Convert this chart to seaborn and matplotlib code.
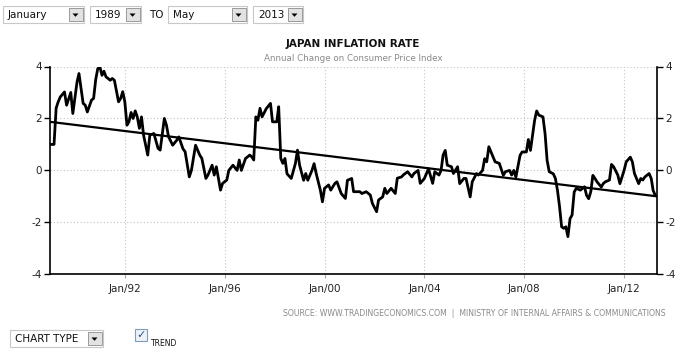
import matplotlib
matplotlib.use("Agg")
import matplotlib.pyplot as plt
from matplotlib.patches import Rectangle, Polygon
import pandas as pd
import seaborn as sns

# Japan CPI, annual change (%)
MONTHS = [
    "1989-01", "1989-03", "1989-04", "1989-05", "1989-06", "1989-08", "1989-09", "1989-11", "1989-12",
    "1990-02", "1990-03", "1990-05", "1990-06", "1990-07", "1990-09", "1990-10", "1990-11", "1990-12",
    "1991-01", "1991-02", "1991-03", "1991-04", "1991-05", "1991-06", "1991-07", "1991-08", "1991-10",
    "1991-11", "1991-12",
    "1992-01", "1992-02", "1992-03", "1992-04", "1992-05", "1992-06", "1992-07", "1992-08", "1992-09",
    "1992-10", "1992-12",
    "1993-01", "1993-03", "1993-05", "1993-06", "1993-08", "1993-09", "1993-10", "1993-12",
    "1994-02", "1994-03", "1994-05", "1994-06", "1994-08", "1994-09", "1994-11",
    "1995-01", "1995-02", "1995-04", "1995-05", "1995-07", "1995-08", "1995-09", "1995-11", "1995-12",
    "1996-02", "1996-03", "1996-05", "1996-07", "1996-08", "1996-09", "1996-11", "1996-12",
    "1997-01", "1997-02", "1997-03", "1997-04", "1997-05", "1997-06", "1997-07", "1997-09", "1997-11",
    "1997-12",
    "1998-02", "1998-03", "1998-04", "1998-05", "1998-06", "1998-07", "1998-09", "1998-11", "1998-12",
    "1999-01", "1999-03", "1999-04", "1999-05", "1999-07", "1999-08", "1999-09", "1999-11", "1999-12",
    "2000-01", "2000-03", "2000-04", "2000-06", "2000-07", "2000-09", "2000-11", "2000-12",
    "2001-02", "2001-03", "2001-06", "2001-07", "2001-09", "2001-11", "2001-12",
    "2002-02", "2002-03", "2002-05", "2002-06", "2002-07", "2002-09", "2002-11", "2002-12",
    "2003-02", "2003-03", "2003-05", "2003-07", "2003-08", "2003-10", "2003-11",
    "2004-01", "2004-03", "2004-05", "2004-06", "2004-08", "2004-09", "2004-10", "2004-11", "2004-12",
    "2005-02", "2005-03", "2005-05", "2005-06", "2005-08", "2005-09", "2005-11", "2005-12",
    "2006-02", "2006-03", "2006-05", "2006-06", "2006-07", "2006-08", "2006-10", "2006-11",
    "2007-01", "2007-03", "2007-04", "2007-06", "2007-07", "2007-08", "2007-09", "2007-11", "2007-12",
    "2008-02", "2008-03", "2008-04", "2008-06", "2008-07", "2008-08", "2008-10", "2008-11", "2008-12",
    "2009-01", "2009-03", "2009-04", "2009-05", "2009-06", "2009-07", "2009-08", "2009-09", "2009-10",
    "2009-11", "2009-12",
    "2010-01", "2010-02", "2010-04", "2010-06", "2010-07", "2010-08", "2010-09", "2010-10", "2010-11",
    "2010-12",
    "2011-02", "2011-03", "2011-04", "2011-06", "2011-07", "2011-08", "2011-10", "2011-11",
    "2012-01", "2012-02", "2012-04", "2012-05", "2012-06", "2012-08", "2012-09", "2012-10", "2012-11",
    "2013-01", "2013-02", "2013-03", "2013-04",
]
INFLATION = [
    1.0, 1.0, 2.4, 2.64, 2.83, 3.02, 2.51, 3.0, 2.19,
    3.41, 3.73, 2.58, 2.51, 2.25, 2.71, 2.77, 3.5, 3.92,
    3.98, 3.66, 3.82, 3.6, 3.54, 3.47, 3.54, 3.47, 2.64,
    2.77, 3.03,
    2.64, 1.74, 1.87, 2.23, 2.0, 2.29, 2.06, 1.62, 2.06,
    1.36, 0.59,
    1.36, 1.42, 0.85, 0.78, 2.0, 1.74, 1.3, 0.97,
    1.17, 1.29, 0.83, 0.72, -0.25, 0.0, 0.97,
    0.59, 0.46, -0.31, -0.18, 0.2, -0.18, 0.14, -0.76, -0.5,
    -0.37, 0.0, 0.2, 0.0, 0.4, 0.0, 0.46, 0.52,
    0.59, 0.52, 0.4, 2.06, 1.93, 2.39, 2.06, 2.38, 2.58,
    1.87,
    1.87, 2.45, 0.46, 0.27, 0.46, -0.13, -0.31, 0.27, 0.78,
    0.2, -0.38, -0.12, -0.38, 0.0, 0.26, -0.12, -0.76, -1.21,
    -0.69, -0.56, -0.76, -0.5, -0.44, -0.89, -1.08, -0.38,
    -0.31, -0.82, -0.82, -0.89, -0.82, -0.95, -1.27,
    -1.59, -1.14, -1.02, -0.69, -0.89, -0.69, -0.89, -0.3,
    -0.25, -0.17, -0.05, -0.25, -0.12, 0.0, -0.5,
    -0.31, 0.06, -0.5, -0.05, -0.18, 0.0, 0.59, 0.77, 0.2,
    0.14, -0.12, 0.14, -0.51, -0.31, -0.31, -1.02, -0.44,
    -0.12, -0.18, 0.0, 0.45, 0.33, 0.91, 0.52, 0.33,
    0.27, -0.19, -0.05, 0.0, -0.18, 0.0, -0.26, 0.58, 0.71,
    0.71, 1.19, 0.77, 1.93, 2.29, 2.13, 2.06, 1.41, 0.38,
    -0.05, -0.13, -0.31, -0.76, -1.4, -2.17, -2.23, -2.17, -2.55,
    -1.86, -1.72,
    -0.83, -0.69, -0.76, -0.63, -0.96, -1.09, -0.82, -0.19, -0.31,
    -0.44,
    -0.64, -0.51, -0.44, -0.37, 0.23, 0.14, -0.18, -0.51,
    0.0, 0.33, 0.51, 0.33, -0.12, -0.51, -0.31, -0.37, -0.25,
    -0.12, -0.31, -0.77, -0.96,
]
TREND_MONTHS = ["1989-01", "2013-05"]
TREND_VALUES = [1.87, -1.0]

YTICKS = [-4, -2, 0, 2, 4]
XTICK_YEARS = [1992, 1996, 2000, 2004, 2008, 2012]
XTICK_LABELS = ["Jan/92", "Jan/96", "Jan/00", "Jan/04", "Jan/08", "Jan/12"]

TITLE = "JAPAN INFLATION RATE"
SUBTITLE = "Annual Change on Consumer Price Index"
SOURCE = "SOURCE: WWW.TRADINGECONOMICS.COM  |  MINISTRY OF INTERNAL AFFAIRS & COMMUNICATIONS"

W, H = 697, 354
GRID_COLOR = "#c4c4c4"
TEXT_COLOR = "#222222"


def dropdown(ui, x, y, w, h, label, btn_w=14):
    """Fake HTML select box, drawn in pixel coords of the overlay axes."""
    ui.add_patch(Rectangle((x, y), w, h, facecolor="white", edgecolor="#c8c8c8", lw=0.8))
    bx = x + w - btn_w - 1.5
    ui.add_patch(Rectangle((bx, y + 2), btn_w, h - 4, facecolor="#e2e2e2", edgecolor="#9a9a9a", lw=0.7))
    cx, cy = bx + btn_w / 2, y + h / 2 + 0.5
    ui.add_patch(Polygon([(cx - 3, cy - 1.5), (cx + 3, cy - 1.5), (cx, cy + 1.8)],
                         closed=True, facecolor="black", edgecolor="none"))
    ui.text(x + 5, y + h / 2 + 0.5, label, fontsize=7.5, va="center", ha="left", color="#111111")


df = pd.DataFrame({"month": pd.to_datetime(MONTHS), "inflation": INFLATION})
trend = pd.DataFrame({"month": pd.to_datetime(TREND_MONTHS), "trend": TREND_VALUES})

sns.set_style("white")
plt.rcParams["font.family"] = ["DejaVu Sans"]

fig = plt.figure(figsize=(W / 100, H / 100), dpi=100)
fig.patch.set_facecolor("white")

# overlay in pixel coordinates for the page furniture
ui = fig.add_axes([0, 0, 1, 1])
ui.set_xlim(0, W)
ui.set_ylim(H, 0)
ui.axis("off")

ax = fig.add_axes([50 / W, 1 - 274.3 / H, (657.3 - 50) / W, (274.3 - 66.5) / H])
ax.patch.set_alpha(0)

sns.lineplot(data=df, x="month", y="inflation", ax=ax, color="black", lw=2.0)
sns.lineplot(data=trend, x="month", y="trend", ax=ax, color="black", lw=1.6)

ax.set_xlim(pd.Timestamp("1989-01-01"), pd.Timestamp("2013-05-01"))
ax.set_ylim(-4, 4)
ax.set_xlabel("")
ax.set_ylabel("")

ax.set_yticks(YTICKS)
ax.set_yticklabels([str(v) for v in YTICKS])
ax.set_xticks([pd.Timestamp(f"{y}-01-01") for y in XTICK_YEARS])
ax.set_xticklabels(XTICK_LABELS)

ax.tick_params(axis="y", which="both", left=True, right=True, labelleft=True, labelright=True,
               length=4, width=1, color="black", labelsize=7.5, labelcolor=TEXT_COLOR, pad=2)
ax.tick_params(axis="x", bottom=True, length=3, width=0.8, color="#aaaaaa",
               labelsize=7.5, labelcolor=TEXT_COLOR, pad=4)

for y in YTICKS[1:]:
    ax.axhline(y, color=GRID_COLOR, lw=0.8, ls=(0, (1, 2)), zorder=0)
for yr in XTICK_YEARS:
    ax.axvline(pd.Timestamp(f"{yr}-01-01"), color=GRID_COLOR, lw=0.8, ls=(0, (1, 2)), zorder=0)

ax.spines["top"].set_visible(False)
for side in ["left", "right", "bottom"]:
    ax.spines[side].set_visible(True)
    ax.spines[side].set_color("black")
    ax.spines[side].set_linewidth(1.2)

# titles
ui.text(353, 44, TITLE, ha="center", va="center", fontsize=7.5, fontweight="bold", color="#111111")
ui.text(353, 58.5, SUBTITLE, ha="center", va="center", fontsize=6.3, color="#8a8a8a")

# source line
ui.text(666, 313, SOURCE, ha="right", va="center", fontsize=5.6, color="#8a8a8a")

# period selectors on top
dropdown(ui, 3, 6, 81, 17, "January")
dropdown(ui, 90, 6, 51, 17, "1989")
ui.text(149, 15, "TO", fontsize=7.5, va="center", ha="left", color="#111111")
dropdown(ui, 168, 6, 79, 17, "May")
dropdown(ui, 253, 6, 50, 17, "2013")

# chart type selector + trend checkbox at the bottom
dropdown(ui, 10, 330, 93, 17, "CHART TYPE")
ui.add_patch(Rectangle((135, 329), 12, 12, facecolor="#eef2f7", edgecolor="#7f9db9", lw=0.8))
ui.text(141, 335, "\u2713", ha="center", va="center", fontsize=8, color="#2b4f8a", fontweight="bold")
ui.text(151, 343, "TREND", ha="left", va="center", fontsize=5.5, color="#111111")

fig.savefig("out.png", dpi=100, facecolor="white")
